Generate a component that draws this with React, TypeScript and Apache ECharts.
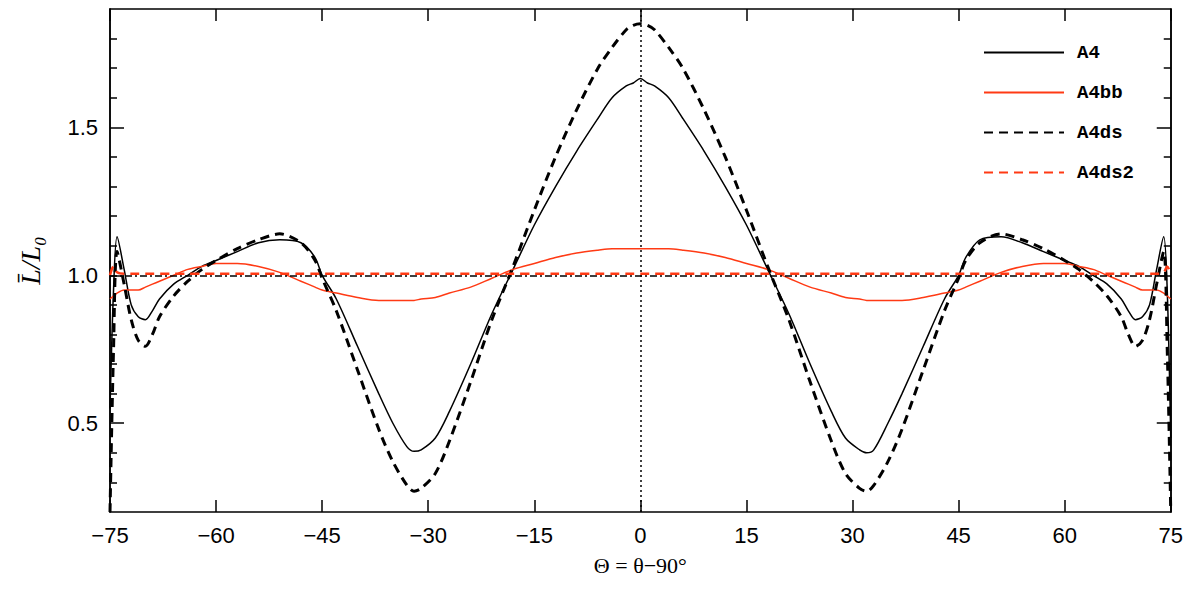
import { useEffect, useRef } from "react";
import * as echarts from "echarts";

const theta = [
  -75, -74.5, -74, -73, -72, -71, -70, -69, -68, -66, -64, -62, -60, -57, -54, -51, -48, -46, -45, -43,
  -40, -37, -35, -33, -32, -31, -29, -27, -24, -21, -18, -15, -12, -9, -6, -4, -2, -1, 0,
  1, 2, 4, 6, 9, 12, 15, 18, 21, 24, 27, 29, 31, 32, 33, 35, 37, 40, 43, 45, 46, 48, 51, 54, 57,
  60, 62, 64, 66, 68, 69, 70, 71, 72, 73, 74, 74.5, 75,
];

const a4 = [
  0.55, 0.95, 1.13, 1.02, 0.9, 0.86, 0.85, 0.88, 0.92, 0.97, 1.0, 1.03, 1.05, 1.08, 1.11, 1.12, 1.11, 1.06, 1.0, 0.92,
  0.76, 0.6, 0.5, 0.42, 0.405, 0.41, 0.45, 0.54, 0.7, 0.87, 1.02, 1.17, 1.3, 1.42, 1.53, 1.6, 1.64, 1.65, 1.665,
  1.65, 1.64, 1.6, 1.53, 1.42, 1.3, 1.17, 1.02, 0.87, 0.7, 0.54, 0.45, 0.41, 0.4, 0.41, 0.5, 0.6, 0.76, 0.92, 1.0, 1.06, 1.12, 1.13, 1.11, 1.08,
  1.05, 1.03, 1.0, 0.97, 0.92, 0.88, 0.85, 0.86, 0.9, 1.02, 1.13, 0.95, 0.45,
];

const a4ds = [
  0.2, 0.75, 1.08, 0.97, 0.85, 0.78, 0.76, 0.8, 0.86, 0.93, 0.98, 1.02, 1.05, 1.09, 1.12, 1.14, 1.11, 1.05, 0.99, 0.88,
  0.68, 0.48, 0.37, 0.29, 0.27, 0.28, 0.33, 0.44, 0.64, 0.85, 1.03, 1.22, 1.4, 1.56, 1.7, 1.77, 1.83, 1.845, 1.85,
  1.845, 1.83, 1.77, 1.7, 1.56, 1.4, 1.22, 1.03, 0.85, 0.64, 0.44, 0.33, 0.28, 0.27, 0.29, 0.37, 0.48, 0.68, 0.88, 0.99, 1.05, 1.11, 1.14, 1.12, 1.09,
  1.05, 1.02, 0.98, 0.93, 0.86, 0.8, 0.76, 0.78, 0.85, 0.97, 1.08, 0.75, 0.2,
];

const a4bb = [
  0.92, 0.93, 0.94, 0.95, 0.95, 0.95, 0.96, 0.97, 0.98, 1.0, 1.02, 1.03, 1.04, 1.04, 1.03, 1.01, 0.98, 0.96, 0.95, 0.94,
  0.925, 0.915, 0.915, 0.915, 0.915, 0.92, 0.925, 0.94, 0.96, 0.99, 1.02, 1.04, 1.06, 1.075, 1.085, 1.09, 1.09, 1.09, 1.09,
  1.09, 1.09, 1.09, 1.085, 1.075, 1.06, 1.04, 1.02, 0.99, 0.96, 0.94, 0.925, 0.92, 0.915, 0.915, 0.915, 0.915, 0.925, 0.94, 0.95, 0.96, 0.98, 1.01, 1.03, 1.04,
  1.04, 1.03, 1.02, 1.0, 0.98, 0.97, 0.96, 0.95, 0.95, 0.95, 0.94, 0.93, 0.92,
];

const a4ds2 = [
  1.0, 1.03, 1.01, 1.005, 1.005, 1.005, 1.005, 1.005, 1.005, 1.005, 1.005, 1.005, 1.005, 1.005, 1.005, 1.005, 1.005, 1.005, 1.005, 1.005,
  1.005, 1.005, 1.005, 1.005, 1.005, 1.005, 1.005, 1.005, 1.005, 1.005, 1.005, 1.005, 1.005, 1.005, 1.005, 1.005, 1.005, 1.005, 1.005,
  1.005, 1.005, 1.005, 1.005, 1.005, 1.005, 1.005, 1.005, 1.005, 1.005, 1.005, 1.005, 1.005, 1.005, 1.005, 1.005, 1.005, 1.005, 1.005, 1.005, 1.005, 1.005, 1.005, 1.005, 1.005,
  1.005, 1.005, 1.005, 1.005, 1.005, 1.005, 1.005, 1.005, 1.005, 1.005, 1.01, 1.03, 1.0,
];

const yMajor = [0.5, 1.0, 1.5];
const yMinor = [0.3, 0.4, 0.6, 0.7, 0.8, 0.9, 1.1, 1.2, 1.3, 1.4, 1.6, 1.7, 1.8];

const RED = "#ff3a14";
const pairs = (ys: number[]) => theta.map((t, i) => [t, ys[i]]);

export default function App() {
  const ref = useRef<HTMLDivElement>(null);

  useEffect(() => {
    if (!ref.current) return;
    const chart = echarts.init(ref.current, null, { renderer: "svg" });
    const line = { show: true, onZero: false, lineStyle: { color: "#000", width: 1.5 } };
    const tickFont = { fontFamily: "Liberation Sans", fontSize: 22, color: "#000" };

    const yAxisBase = (position: "left" | "right", values: number[], len: number, labels: boolean) => ({
      type: "value",
      position,
      min: 0.2,
      max: 1.9,
      splitLine: { show: false },
      axisLine: line,
      axisTick: { show: true, inside: true, length: len, customValues: values, lineStyle: { color: "#000", width: 1.5 } },
      axisLabel: labels
        ? { show: true, customValues: yMajor, formatter: (v: number) => v.toFixed(1), margin: 12, ...tickFont }
        : { show: false },
    });

    const serie = (name: string, data: number[], color: string, width: number, type: any) => ({
      name,
      type: "line",
      data: pairs(data),
      symbol: "none",
      smooth: 0.3,
      lineStyle: { color, width, type },
      itemStyle: { color },
    });

    chart.setOption({
      animation: false,
      grid: { left: 102, right: 14, top: 1, bottom: 67 },
      legend: {
        left: 970,
        top: 30,
        orient: "vertical",
        itemWidth: 80,
        itemHeight: 14,
        itemGap: 21,
        itemStyle: { opacity: 0 },
        textStyle: { fontFamily: "Liberation Mono", fontWeight: "bold", fontSize: 19, color: "#000", padding: [0, 0, 0, 8] },
        data: ["A4", "A4bb", "A4ds", "A4ds2"],
      },
      xAxis: [
        {
          type: "value",
          min: -75,
          max: 75,
          interval: 15,
          splitLine: { show: false },
          axisLine: line,
          axisTick: { inside: true, length: 12, lineStyle: { color: "#000", width: 1.5 } },
          axisLabel: { formatter: (v: number) => String(v).replace("-", "\u2212"), margin: 12, ...tickFont },
          name: "\u0398 = \u03b8\u221290\u00b0",
          nameLocation: "middle",
          nameGap: 42,
          nameTextStyle: { fontFamily: "Liberation Serif", fontSize: 22, color: "#000" },
        },
        {
          type: "value",
          position: "top",
          min: -75,
          max: 75,
          interval: 15,
          splitLine: { show: false },
          axisLine: line,
          axisTick: { inside: true, length: 12, lineStyle: { color: "#000", width: 1.5 } },
          axisLabel: { show: false },
        },
      ],
      yAxis: [
        {
          ...yAxisBase("left", yMajor, 14, true),
          name: "L\u0304/L\u2080",
          nameLocation: "middle",
          nameGap: 66,
          nameRotate: 90,
          nameTextStyle: { fontFamily: "Liberation Serif", fontStyle: "italic", fontSize: 28, color: "#000" },
        },
        yAxisBase("left", yMinor, 7, false),
        yAxisBase("right", yMajor, 14, false),
        yAxisBase("right", yMinor, 7, false),
      ],
      series: [
        {
          ...serie("A4", a4, "#000", 1.5, "solid"),
          markLine: {
            silent: true,
            symbol: "none",
            label: { show: false },
            data: [
              { yAxis: 1.0, lineStyle: { color: "#000", width: 1.5, type: [7, 3, 2, 3] } },
              { xAxis: 0, lineStyle: { color: "#000", width: 1.5, type: [2, 3] } },
            ],
          },
        },
        serie("A4bb", a4bb, RED, 1.5, "solid"),
        serie("A4ds", a4ds, "#000", 3, [9, 6]),
        serie("A4ds2", a4ds2, RED, 2.5, [9, 6]),
      ],
    });
    return () => chart.dispose();
  }, []);

  return <div ref={ref} style={{ width: 1178, height: 573 }} />;
}
